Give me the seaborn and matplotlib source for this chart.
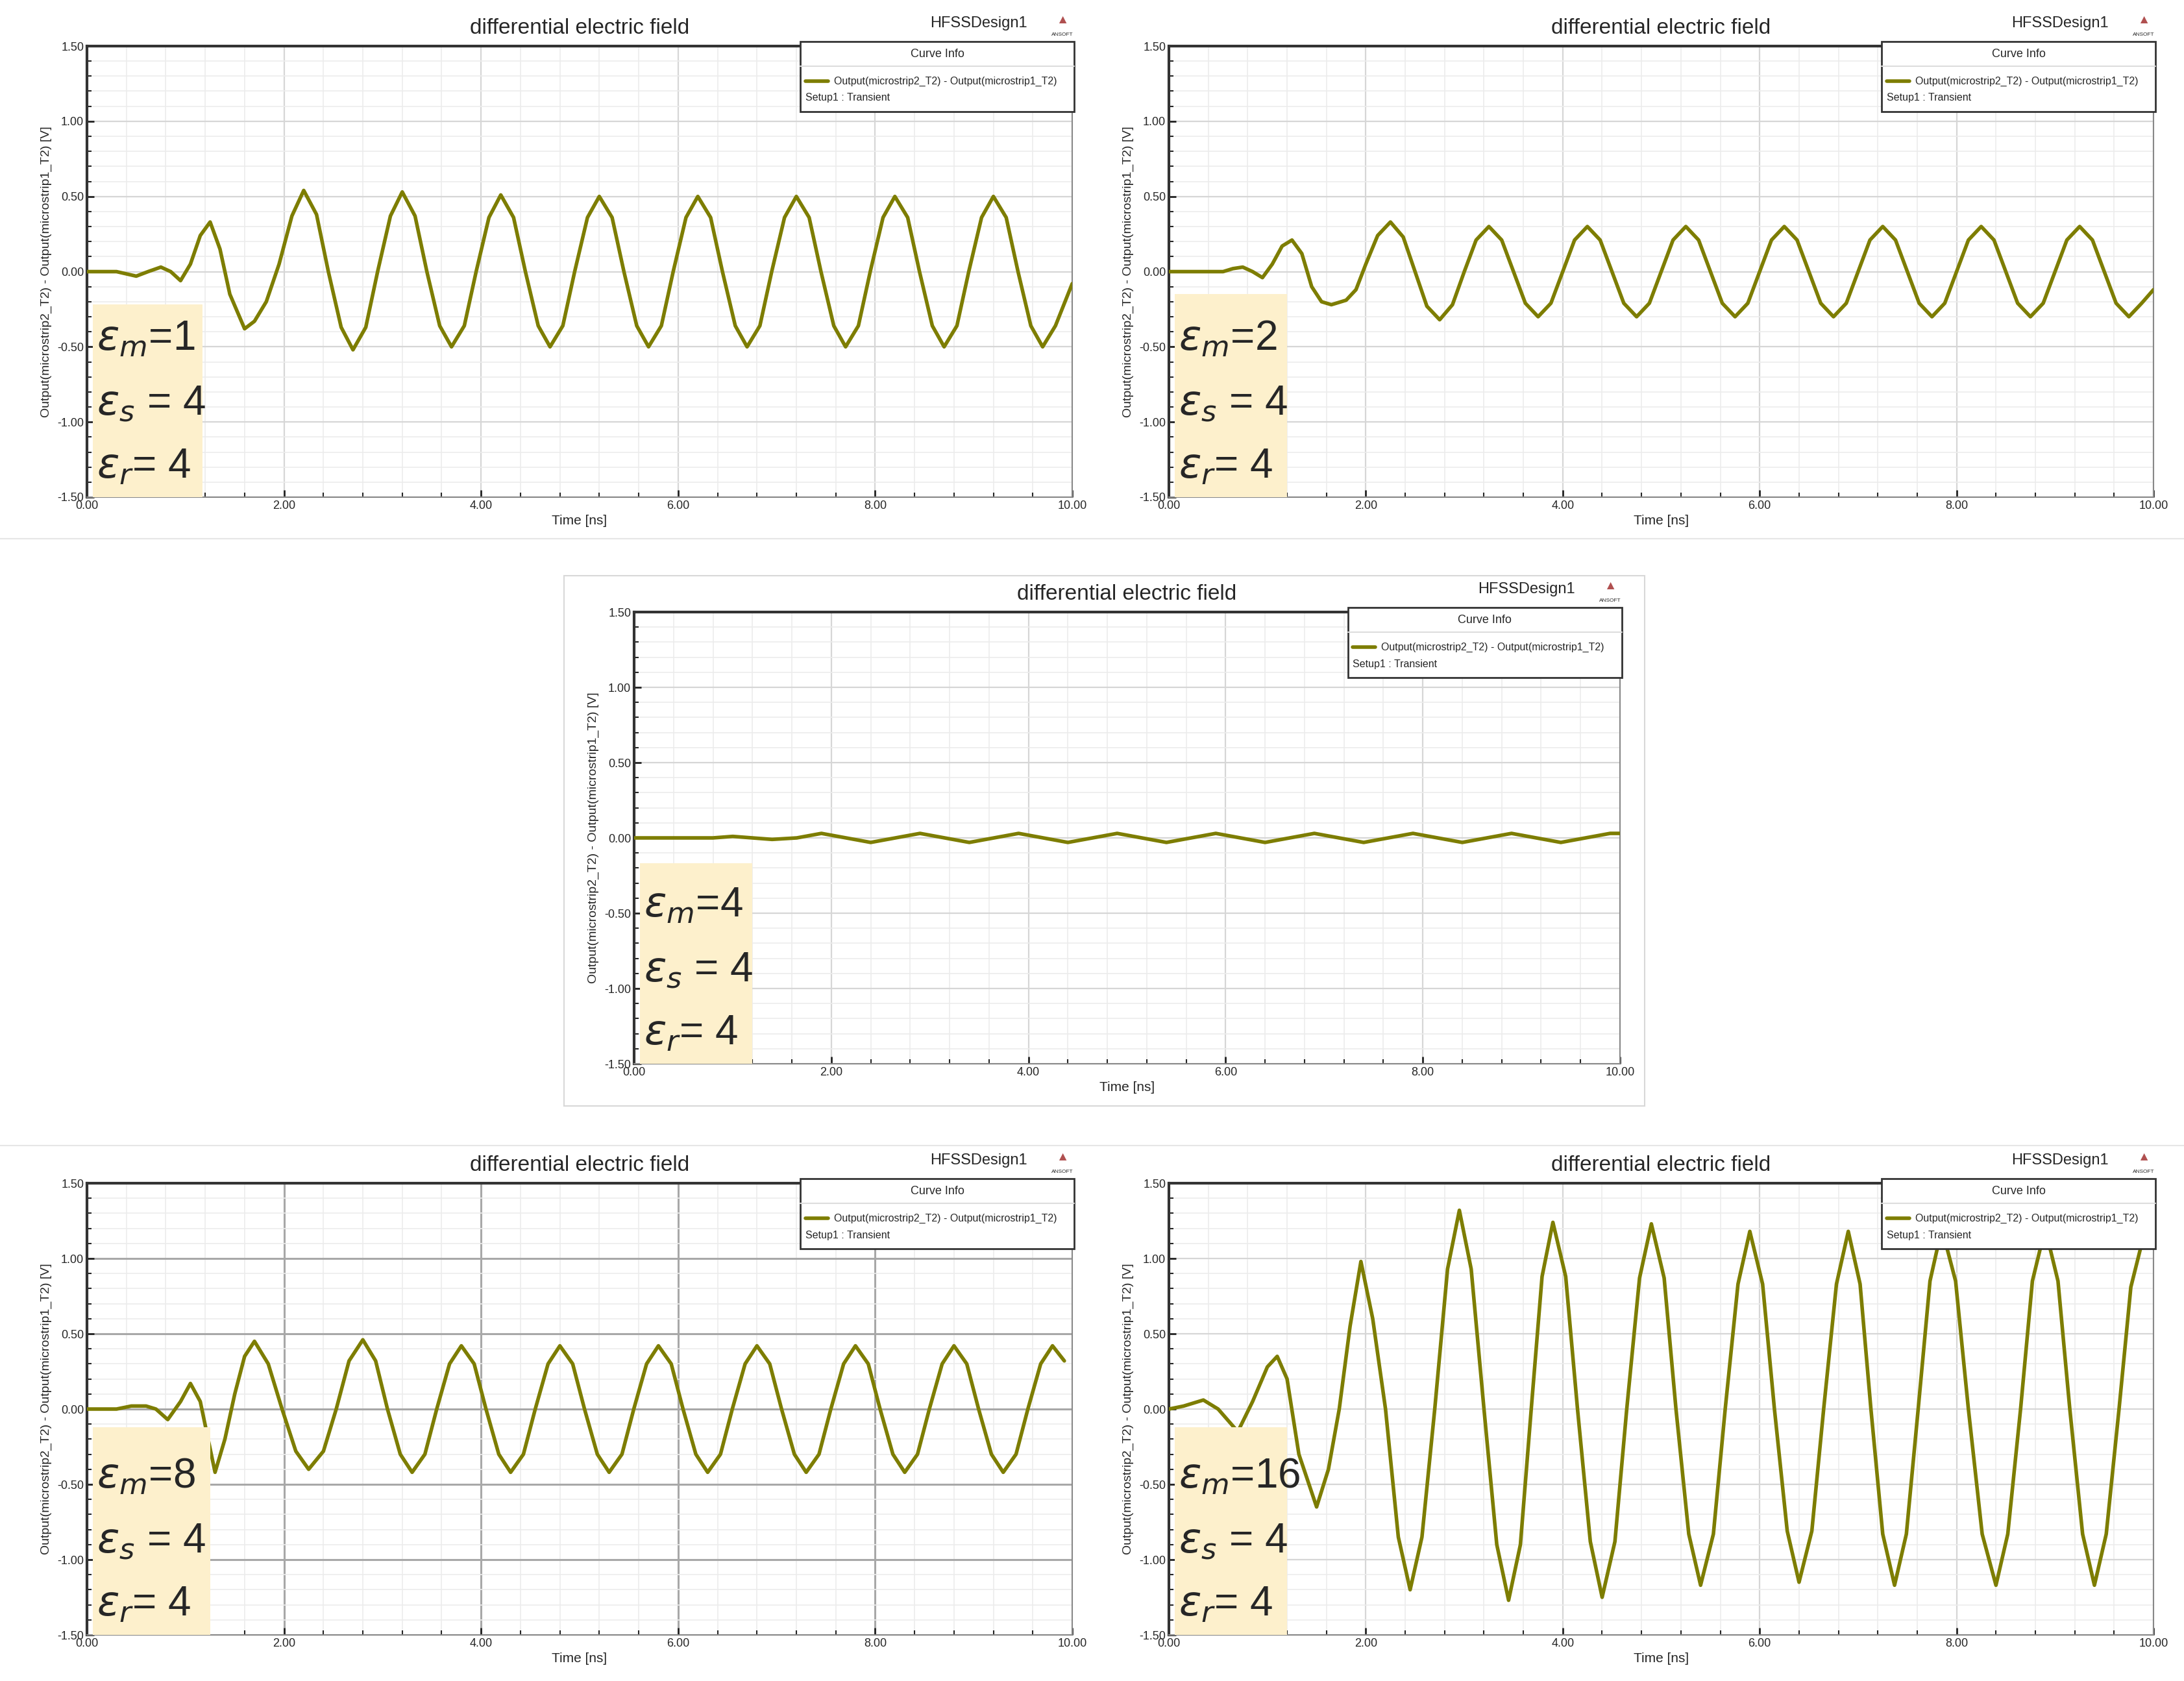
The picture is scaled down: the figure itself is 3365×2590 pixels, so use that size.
import matplotlib
matplotlib.use('Agg')
import matplotlib.pyplot as plt
import matplotlib.ticker as ticker
from matplotlib.patches import Rectangle
import pandas as pd
import seaborn as sns

# ---- data ----
t1 = [0, 0.3, 0.5, 0.62, 0.75, 0.85, 0.95, 1.05, 1.15, 1.25, 1.35, 1.45, 1.6, 1.7, 1.82, 1.95, 2.08, 2.2,
      2.33, 2.45, 2.58, 2.7, 2.83, 2.95, 3.08, 3.2, 3.33, 3.45, 3.58, 3.7,
      3.83, 3.95, 4.08, 4.2, 4.33, 4.45, 4.58, 4.7,
      4.83, 4.95, 5.08, 5.2, 5.33, 5.45, 5.58, 5.7,
      5.83, 5.95, 6.08, 6.2, 6.33, 6.45, 6.58, 6.7,
      6.83, 6.95, 7.08, 7.2, 7.33, 7.45, 7.58, 7.7,
      7.83, 7.95, 8.08, 8.2, 8.33, 8.45, 8.58, 8.7,
      8.83, 8.95, 9.08, 9.2, 9.33, 9.45, 9.58, 9.7,
      9.83, 10.0]
v1 = [0, 0, -0.03, 0, 0.03, 0, -0.06, 0.05, 0.24, 0.33, 0.15, -0.15, -0.38, -0.33, -0.2, 0.05, 0.37, 0.54,
      0.38, 0, -0.37, -0.52, -0.37, 0, 0.37, 0.53, 0.37, 0, -0.36, -0.5,
      -0.36, 0, 0.36, 0.51, 0.36, 0, -0.36, -0.5,
      -0.36, 0, 0.36, 0.5, 0.36, 0, -0.36, -0.5,
      -0.36, 0, 0.36, 0.5, 0.36, 0, -0.36, -0.5,
      -0.36, 0, 0.36, 0.5, 0.36, 0, -0.36, -0.5,
      -0.36, 0, 0.36, 0.5, 0.36, 0, -0.36, -0.5,
      -0.36, 0, 0.36, 0.5, 0.36, 0, -0.36, -0.5,
      -0.36, -0.08]

t2 = [0, 0.55, 0.65, 0.75, 0.85, 0.95, 1.05, 1.15, 1.25, 1.35, 1.45, 1.55, 1.65, 1.8, 1.9, 2.0, 2.12, 2.25,
      2.38, 2.5, 2.62, 2.75, 2.88, 3.0, 3.12, 3.25, 3.38, 3.5, 3.62, 3.75,
      3.88, 4.0, 4.12, 4.25, 4.38, 4.5, 4.62, 4.75,
      4.88, 5.0, 5.12, 5.25, 5.38, 5.5, 5.62, 5.75,
      5.88, 6.0, 6.12, 6.25, 6.38, 6.5, 6.62, 6.75,
      6.88, 7.0, 7.12, 7.25, 7.38, 7.5, 7.62, 7.75,
      7.88, 8.0, 8.12, 8.25, 8.38, 8.5, 8.62, 8.75,
      8.88, 9.0, 9.12, 9.25, 9.38, 9.5, 9.62, 9.75,
      9.88, 10.0]
v2 = [0, 0, 0.02, 0.03, 0, -0.04, 0.05, 0.17, 0.21, 0.12, -0.1, -0.2, -0.22, -0.19, -0.12, 0.05, 0.24, 0.33,
      0.23, 0, -0.23, -0.32, -0.22, 0, 0.21, 0.3, 0.21, 0, -0.21, -0.3,
      -0.21, 0, 0.21, 0.3, 0.21, 0, -0.21, -0.3,
      -0.21, 0, 0.21, 0.3, 0.21, 0, -0.21, -0.3,
      -0.21, 0, 0.21, 0.3, 0.21, 0, -0.21, -0.3,
      -0.21, 0, 0.21, 0.3, 0.21, 0, -0.21, -0.3,
      -0.21, 0, 0.21, 0.3, 0.21, 0, -0.21, -0.3,
      -0.21, 0, 0.21, 0.3, 0.21, 0, -0.21, -0.3,
      -0.21, -0.12]

t3 = [0, 0.8, 1.0, 1.2, 1.4, 1.65, 1.9, 2.15, 2.4, 2.65, 2.9, 3.15, 3.4, 3.65, 3.9, 4.15, 4.4, 4.65, 4.9, 5.15,
      5.4, 5.65, 5.9, 6.15, 6.4, 6.65, 6.9, 7.15, 7.4, 7.65, 7.9, 8.15, 8.4, 8.65, 8.9, 9.15, 9.4, 9.65, 9.9, 10.0]
v3 = [0, 0, 0.01, 0, -0.01, 0, 0.03, 0, -0.03, 0, 0.03, 0, -0.03, 0, 0.03, 0, -0.03, 0, 0.03, 0,
      -0.03, 0, 0.03, 0, -0.03, 0, 0.03, 0, -0.03, 0, 0.03, 0, -0.03, 0, 0.03, 0, -0.03, 0, 0.03, 0.03]

t4 = [0, 0.3, 0.45, 0.6, 0.7, 0.82, 0.95, 1.05, 1.15, 1.3, 1.4, 1.5, 1.6, 1.7,
      1.84, 1.98, 2.12, 2.25, 2.4, 2.53, 2.66, 2.8, 2.93, 3.05, 3.18, 3.3, 3.43, 3.55, 3.68, 3.8,
      3.93, 4.05, 4.18, 4.3, 4.43, 4.55, 4.68, 4.8,
      4.93, 5.05, 5.18, 5.3, 5.43, 5.55, 5.68, 5.8,
      5.93, 6.05, 6.18, 6.3, 6.43, 6.55, 6.68, 6.8,
      6.93, 7.05, 7.18, 7.3, 7.43, 7.55, 7.68, 7.8,
      7.93, 8.05, 8.18, 8.3, 8.43, 8.55, 8.68, 8.8,
      8.93, 9.05, 9.18, 9.3, 9.43, 9.55, 9.68, 9.8,
      9.92]
v4 = [0, 0, 0.02, 0.02, 0, -0.07, 0.05, 0.17, 0.05, -0.42, -0.2, 0.1, 0.35, 0.45,
      0.3, 0, -0.28, -0.4, -0.28, 0, 0.32, 0.46, 0.32, 0, -0.3, -0.42, -0.3, 0, 0.3, 0.42,
      0.3, 0, -0.3, -0.42, -0.3, 0, 0.3, 0.42,
      0.3, 0, -0.3, -0.42, -0.3, 0, 0.3, 0.42,
      0.3, 0, -0.3, -0.42, -0.3, 0, 0.3, 0.42,
      0.3, 0, -0.3, -0.42, -0.3, 0, 0.3, 0.42,
      0.3, 0, -0.3, -0.42, -0.3, 0, 0.3, 0.42,
      0.3, 0, -0.3, -0.42, -0.3, 0, 0.3, 0.42,
      0.32]

t5 = [0, 0.15, 0.35, 0.5, 0.7, 0.85, 1.0, 1.1, 1.2, 1.32, 1.5, 1.62, 1.73, 1.84, 1.95, 2.07, 2.2, 2.33, 2.45, 2.57,
      2.7, 2.83, 2.95, 3.07, 3.2, 3.33, 3.45, 3.57, 3.68, 3.79, 3.9, 4.03, 4.15, 4.28, 4.4, 4.53, 4.65, 4.78, 4.9, 5.03,
      5.15, 5.28, 5.4, 5.53, 5.65, 5.78, 5.9, 6.03, 6.15, 6.28, 6.4, 6.53, 6.65, 6.78, 6.9, 7.02, 7.13, 7.25, 7.37, 7.49,
      7.61, 7.73, 7.85, 7.99, 8.12, 8.26, 8.4, 8.52, 8.65, 8.77, 8.9, 9.03, 9.15, 9.28, 9.4, 9.52, 9.65, 9.77, 9.9]
v5 = [0, 0.02, 0.06, 0.0, -0.15, 0.05, 0.28, 0.35, 0.2, -0.3, -0.65, -0.4, 0.0, 0.55, 0.98, 0.6, 0, -0.85, -1.2, -0.85,
      0, 0.93, 1.32, 0.93, 0, -0.9, -1.27, -0.9, 0, 0.88, 1.24, 0.88, 0, -0.88, -1.25, -0.88, 0, 0.87, 1.23, 0.87,
      0, -0.83, -1.17, -0.83, 0, 0.83, 1.18, 0.83, 0, -0.81, -1.15, -0.81, 0, 0.83, 1.18, 0.83, 0, -0.83, -1.17, -0.83,
      0, 0.85, 1.2, 0.85, 0, -0.83, -1.17, -0.83, 0, 0.85, 1.2, 0.85, 0, -0.83, -1.17, -0.83, 0, 0.81, 1.15]

eps_m = ['1', '2', '4', '8', '16']
box_top = [-0.22, -0.15, -0.17, -0.12, -0.12]
box_right = [1.17, 1.2, 1.2, 1.25, 1.2]

series = [(t1, v1), (t2, v2), (t3, v3), (t4, v4), (t5, v5)]

sns.set_style('white')
plt.rcParams['font.family'] = ['Liberation Sans', 'DejaVu Sans']

fig = plt.figure(figsize=(33.65, 25.9), dpi=100)
W, H = 3365.0, 2590.0
# axes rectangles in pixels (left, top, right, bottom)
rects = [(134, 71, 1652, 766), (1801, 71, 3318, 766), (977, 943, 2496, 1639),
         (134, 1823, 1652, 2519), (1801, 1823, 3318, 2519)]

# panel frames
for (x0, y0, x1, y1) in [(869, 887, 2534, 1704)]:
    fig.add_artist(Rectangle((x0 / W, 1 - y1 / H), (x1 - x0) / W, (y1 - y0) / H, fill=False,
                             ec='#d8d8d8', lw=1.5, transform=fig.transFigure))
for yy in [830, 1765]:
    fig.add_artist(plt.Line2D([0, 1], [1 - yy / H] * 2, color='#e6e6e6', lw=1.5, transform=fig.transFigure))

olive = '#7d7d00'
for i, (x0, y0, x1, y1) in enumerate(rects):
    ax = fig.add_axes([x0 / W, 1 - y1 / H, (x1 - x0) / W, (y1 - y0) / H])
    df = pd.DataFrame({'t': series[i][0], 'v': series[i][1]})
    sns.lineplot(data=df, x='t', y='v', ax=ax, color=olive, lw=4, zorder=3,
                 solid_joinstyle='round', solid_capstyle='round')
    ax.set_xlim(0, 10)
    ax.set_ylim(-1.5, 1.5)
    ax.xaxis.set_major_locator(ticker.MultipleLocator(2))
    ax.xaxis.set_minor_locator(ticker.MultipleLocator(0.4))
    ax.yaxis.set_major_locator(ticker.MultipleLocator(0.5))
    ax.yaxis.set_minor_locator(ticker.MultipleLocator(0.1))
    ax.xaxis.set_major_formatter(ticker.FormatStrFormatter('%.2f'))
    ax.yaxis.set_major_formatter(ticker.FormatStrFormatter('%.2f'))
    gmaj = '#a8a8a8' if i == 3 else '#d6d6d6'
    ax.grid(True, which='major', color=gmaj, lw=2.2 if i == 3 else 1.6)
    ax.grid(True, which='minor', color='#ececec', lw=1.2)
    ax.set_axisbelow(True)
    ax.tick_params(axis='both', which='major', direction='in', length=8, width=2, labelsize=13,
                   bottom=True, left=True, color='#222222')
    ax.tick_params(axis='both', which='minor', direction='in', length=5, width=1.5, bottom=True, left=True)
    for s in ['top', 'left']:
        ax.spines[s].set_color('#333333')
        ax.spines[s].set_linewidth(3)
    for s in ['right', 'bottom']:
        ax.spines[s].set_color('#888888')
        ax.spines[s].set_linewidth(1.5)
    ax.set_xlabel('Time [ns]', fontsize=15, labelpad=4)
    ax.set_ylabel('Output(microstrip2_T2) - Output(microstrip1_T2) [V]', fontsize=14, labelpad=6)
    ax.set_title('differential electric field', fontsize=24, pad=14)
    ax.text(0.905, 1.035, 'HFSSDesign1', transform=ax.transAxes, fontsize=17, ha='center', va='bottom')
    ax.text(0.99, 1.045, '\u25B2', transform=ax.transAxes, fontsize=14, color='#b05050', ha='center', va='bottom')
    ax.text(0.99, 1.02, 'ANSOFT', transform=ax.transAxes, fontsize=6, ha='center', va='bottom')

    # curve info box
    lx0, lx1, ly0, ly1 = 0.724, 1.002, 0.855, 1.01
    ax.add_patch(Rectangle((lx0, ly0), lx1 - lx0, ly1 - ly0, transform=ax.transAxes, fc='white',
                           ec='#333333', lw=2, zorder=6, clip_on=False))
    ax.plot([lx0, lx1], [0.955, 0.955], transform=ax.transAxes, color='#dddddd', lw=1.5, zorder=7, clip_on=False)
    ax.text((lx0 + lx1) / 2, 0.982, 'Curve Info', transform=ax.transAxes, fontsize=13, ha='center',
            va='center', zorder=7)
    ax.plot([0.729, 0.752], [0.922, 0.922], transform=ax.transAxes, color=olive, lw=4, zorder=7, clip_on=False)
    ax.text(0.758, 0.922, 'Output(microstrip2_T2) - Output(microstrip1_T2)', transform=ax.transAxes,
            fontsize=11.5, va='center', zorder=7)
    ax.text(0.729, 0.885, 'Setup1 : Transient', transform=ax.transAxes, fontsize=11.5, va='center', zorder=7)

    # permittivity annotation
    ax.add_patch(Rectangle((0.06, -1.5), box_right[i] - 0.06, box_top[i] + 1.5, fc='#fdf0cc', ec='none', zorder=4))
    ax.text(0.1, -0.45, r'$\varepsilon_m$=' + eps_m[i], fontsize=46, va='center', zorder=5)
    ax.text(0.1, -0.88, r'$\varepsilon_s$ = 4', fontsize=46, va='center', zorder=5)
    ax.text(0.1, -1.3, r'$\varepsilon_r$= 4', fontsize=46, va='center', zorder=5)

fig.savefig('out.png', dpi=100, facecolor='white')
